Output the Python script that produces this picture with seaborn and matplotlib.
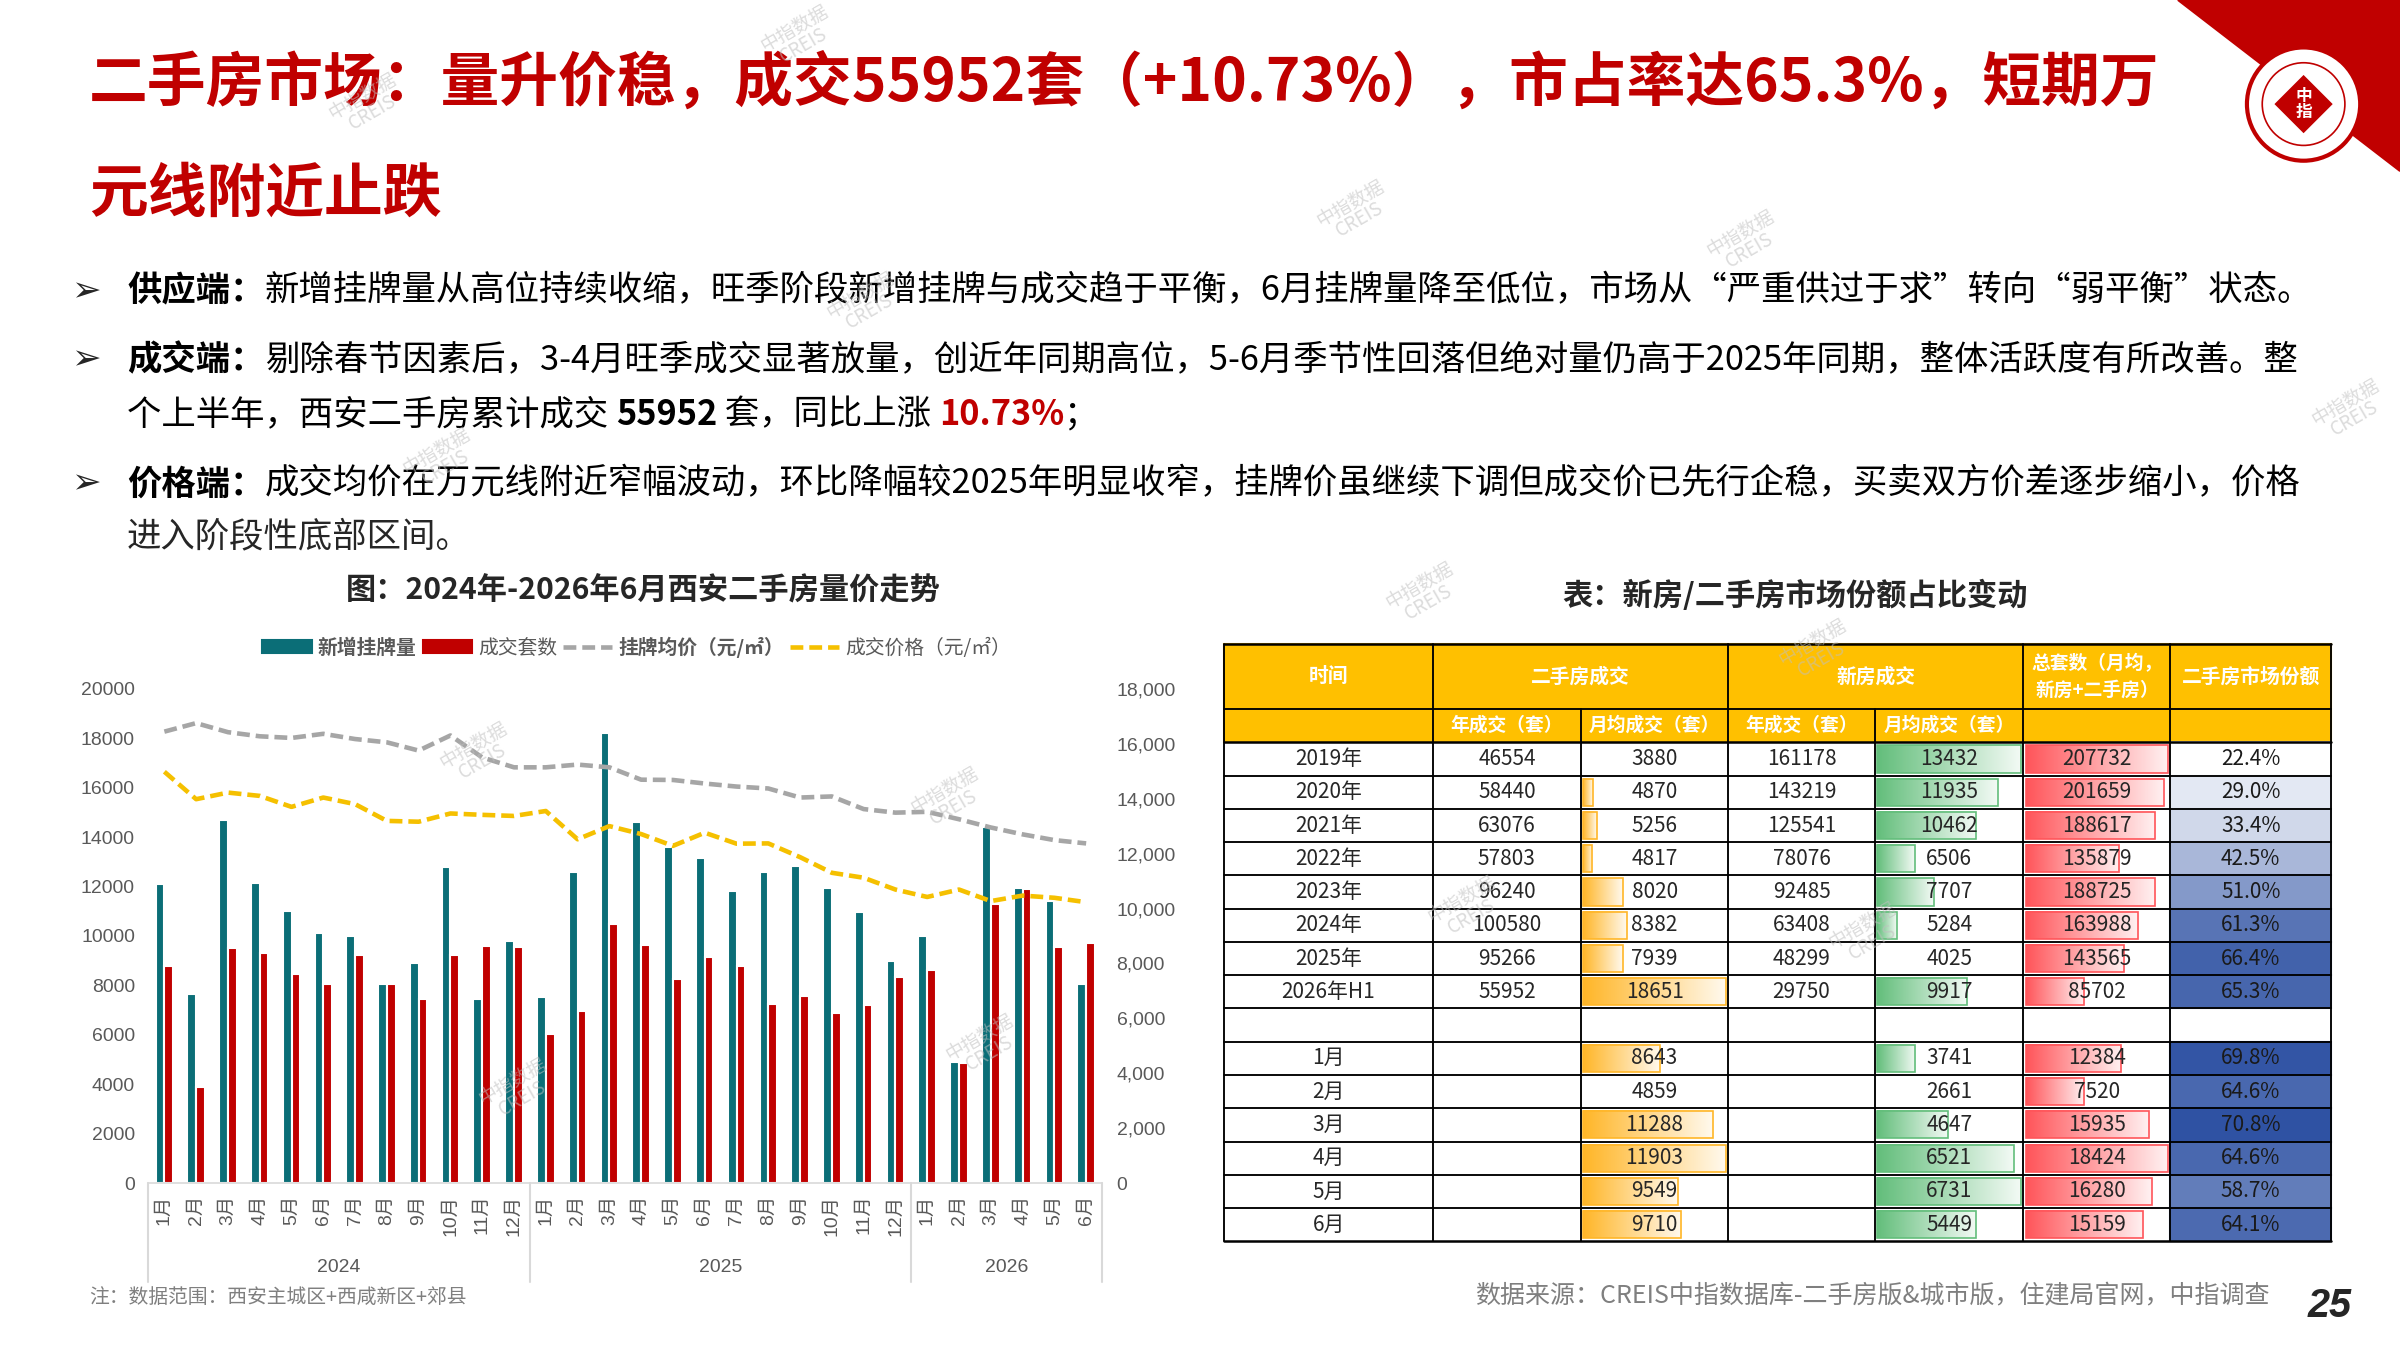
import numpy as np
import pandas as pd
import matplotlib
matplotlib.use("Agg")
import matplotlib.pyplot as plt
import matplotlib.transforms as mtrans
import seaborn as sns
from matplotlib.patches import Rectangle, Polygon, Circle, RegularPolygon, Patch
from matplotlib.lines import Line2D
from matplotlib.colors import LinearSegmentedColormap
from matplotlib.ticker import FuncFormatter

# ---- chart data: Xi'an resale market, 2024.01 - 2026.06 ----
years = ["2024", "2025", "2026"]
months_in_year = [12, 12, 6]
new_listings = [12100, 7650, 14700, 12150, 11000, 10100, 10000, 8050, 8900, 12800, 7450, 9800,
                7550, 12600, 18200, 14600, 13600, 13150, 11800, 12600, 12850, 11950, 10950, 9000,
                10000, 4900, 14400, 11950, 11400, 8050]
deals = [8800, 3900, 9520, 9300, 8450, 8050, 9250, 8050, 7430, 9250, 9600, 9570,
         6030, 6950, 10480, 9620, 8250, 9130, 8780, 7240, 7560, 6880, 7220, 8350,
         8643, 4859, 11288, 11903, 9549, 9710]
listing_price = [16440, 16750, 16420, 16270, 16210, 16360, 16170, 16050, 15750, 16300, 15500, 15140,
                 15140, 15240, 15140, 14690, 14680, 14550, 14440, 14370, 14040, 14080, 13620, 13490,
                 13520, 13250, 12950, 12700, 12490, 12370]
deal_price = [14980, 13980, 14220, 14100, 13700, 14040, 13800, 13190, 13160, 13460, 13410, 13370,
              13550, 12520, 13000, 12710, 12280, 12760, 12360, 12370, 11870, 11300, 11120, 10690,
              10420, 10690, 10270, 10470, 10390, 10230]

# ---- table data ----
tab_years = ["2019年", "2020年", "2021年", "2022年", "2023年", "2024年", "2025年", "2026年H1"]
esf_year = [46554, 58440, 63076, 57803, 96240, 100580, 95266, 55952]
esf_month = [3880, 4870, 5256, 4817, 8020, 8382, 7939, 18651]
new_year = [161178, 143219, 125541, 78076, 92485, 63408, 48299, 29750]
new_month = [13432, 11935, 10462, 6506, 7707, 5284, 4025, 9917]
total_month = [207732, 201659, 188617, 135879, 188725, 163988, 143565, 85702]
share = [22.4, 29.0, 33.4, 42.5, 51.0, 61.3, 66.4, 65.3]
tab_months = ["1月", "2月", "3月", "4月", "5月", "6月"]
m_esf = [8643, 4859, 11288, 11903, 9549, 9710]
m_new = [3741, 2661, 4647, 6521, 6731, 5449]
m_total = [12384, 7520, 15935, 18424, 16280, 15159]
m_share = [69.8, 64.6, 70.8, 64.6, 58.7, 64.1]

TEAL = "#0B6E77"
RED = "#C00000"
GREY_LINE = "#A6A6A6"
YELLOW = "#F5C000"
TXT = "#595959"

sns.set_style("white")
plt.rcParams["font.family"] = ["Noto Sans CJK SC", "DejaVu Sans"]
plt.rcParams["axes.unicode_minus"] = False
LAT = ["Liberation Sans", "Noto Sans CJK SC"]

W, H = 1568, 882
fig = plt.figure(figsize=(16, 9), dpi=150)
bg = fig.add_axes([0, 0, 1, 1])
bg.set_xlim(0, W)
bg.set_ylim(H, 0)
bg.axis("off")
renderer = fig.canvas.get_renderer()


def rich(x, y, parts, size):
    # draw text pieces one after the other on the same baseline
    for s, weight, color in parts:
        t = bg.text(x, y, s, fontsize=size, fontweight=weight, color=color, va="center", ha="left")
        bb = t.get_window_extent(renderer=renderer)
        x += bb.width * W / (16 * 150)


# ---- header ----
bg.text(58, 55, "二手房市场：量升价稳，成交55952套（+10.73%），市占率达65.3%，短期万",
        fontsize=28.2, fontweight="bold", color=RED, va="center")
bg.text(58, 127, "元线附近止跌", fontsize=28.2, fontweight="bold", color=RED, va="center")

bg.add_patch(Polygon([(1423, 0), (W, 0), (W, 112)], closed=True, color="#C00000", zorder=1))
bg.add_patch(Circle((1505, 68), 37, facecolor="white", edgecolor="#C00000", lw=2, zorder=2))
bg.add_patch(Circle((1505, 68), 27, facecolor="none", edgecolor="#C00000", lw=0.8, zorder=2))
bg.add_patch(RegularPolygon((1505, 68), 4, radius=20, facecolor="#C00000", zorder=3))
bg.text(1505, 68, "中\n指", color="white", fontsize=8, fontweight="bold", ha="center", va="center",
        linespacing=0.9, zorder=4)

size_b = 16.5
bullets = [
    (190, [("供应端：", "bold", "black"),
           ("新增挂牌量从高位持续收缩，旺季阶段新增挂牌与成交趋于平衡，6月挂牌量降至低位，市场从“严重供过于求”转向“弱平衡”状态。", "normal", "black")]),
    (235, [("成交端：", "bold", "black"),
           ("剔除春节因素后，3-4月旺季成交显著放量，创近年同期高位，5-6月季节性回落但绝对量仍高于2025年同期，整体活跃度有所改善。整", "normal", "black")]),
    (316, [("价格端：", "bold", "black"),
           ("成交均价在万元线附近窄幅波动，环比降幅较2025年明显收窄，挂牌价虽继续下调但成交价已先行企稳，买卖双方价差逐步缩小，价格", "normal", "black")]),
]
for y, parts in bullets:
    bg.text(56, y, "➢", fontsize=17, family="DejaVu Sans", va="center", ha="center")
    rich(83, y, parts, size_b)
rich(83, 271, [("个上半年，西安二手房累计成交 ", "normal", "black"), ("55952", "bold", "black"),
               (" 套，同比上涨 ", "normal", "black"), ("10.73%", "bold", RED), ("；", "normal", "black")], size_b)
bg.text(83, 351, "进入阶段性底部区间。", fontsize=size_b, va="center")

bg.text(420, 386, "图：2024年-2026年6月西安二手房量价走势", fontsize=14.5, fontweight="bold",
        ha="center", va="center")
bg.text(1173, 389, "表：新房/二手房市场份额占比变动", fontsize=14.5, fontweight="bold",
        ha="center", va="center")

# ---- combo chart ----
keys, month_labels = [], []
for yr, n in zip(years, months_in_year):
    for m in range(1, n + 1):
        keys.append(f"{yr}-{m:02d}")
        month_labels.append(f"{m}月")

df = pd.DataFrame({"key": keys, "新增挂牌量": new_listings, "成交套数": deals,
                   "listing_price": listing_price, "deal_price": deal_price})
long = df.melt(id_vars="key", value_vars=["新增挂牌量", "成交套数"], var_name="series", value_name="value")

ax = fig.add_axes([97 / W, 1 - 773 / H, (720 - 97) / W, (773 - 450) / H])
sns.barplot(data=long, x="key", y="value", hue="series", hue_order=["新增挂牌量", "成交套数"],
            order=keys, palette=[TEAL, RED], width=0.55, saturation=1, ax=ax, legend=False)
ax.set_xlim(-0.5, len(keys) - 0.5)
ax.set_ylim(0, 20000)
ax.set_yticks(range(0, 20001, 2000))
ax.set_xticks(range(len(keys)))
ax.set_xticklabels(month_labels, rotation=90)
ax.set_xlabel("")
ax.set_ylabel("")
ax.tick_params(axis="both", length=0, labelsize=9.3, colors=TXT)
ax.tick_params(axis="y", pad=6.5)
ax.tick_params(axis="x", pad=5.5)
for lab in ax.get_xticklabels() + ax.get_yticklabels():
    lab.set_family(LAT)
for s in ["left", "right", "top"]:
    ax.spines[s].set_visible(False)
ax.spines["bottom"].set_color("#D9D9D9")

ax2 = ax.twinx()
pos = np.arange(len(keys))
sns.lineplot(x=pos, y=df["listing_price"], ax=ax2, color=GREY_LINE, linewidth=2.2)
sns.lineplot(x=pos, y=df["deal_price"], ax=ax2, color=YELLOW, linewidth=2.2)
for ln in ax2.lines:
    ln.set_dashes([2.8, 1.3])
ax2.set_ylim(0, 18000)
ax2.set_yticks(range(0, 18001, 2000))
ax2.yaxis.set_major_formatter(FuncFormatter(lambda v, p: f"{int(v):,}"))
ax2.set_ylabel("")
ax2.tick_params(axis="y", length=0, labelsize=9.3, colors=TXT, pad=7)
for lab in ax2.get_yticklabels():
    lab.set_family(LAT)
for s in ax2.spines.values():
    s.set_visible(False)
ax.set_xlim(-0.5, len(keys) - 0.5)

trans = mtrans.blended_transform_factory(ax.transData, ax.transAxes)
bounds = np.concatenate([[0], np.cumsum(months_in_year)]) - 0.5
for b in bounds:
    ax.plot([b, b], [0, -0.2], transform=trans, color="#D9D9D9", lw=1, clip_on=False)
for yr, a, b in zip(years, bounds[:-1], bounds[1:]):
    ax.text((a + b) / 2, -0.17, yr, transform=trans, ha="center", va="center",
            fontsize=9.3, color=TXT, family=LAT)

handles = [Patch(color=TEAL), Patch(color=RED),
           Line2D([], [], color=GREY_LINE, lw=2.2, dashes=[2.8, 1.3]),
           Line2D([], [], color=YELLOW, lw=2.2, dashes=[2.8, 1.3])]
leg = fig.legend(handles, ["新增挂牌量", "成交套数", "挂牌均价（元/㎡）", "成交价格（元/㎡）"],
                 loc="center", bbox_to_anchor=(416 / W, 1 - 423 / H), ncol=4, frameon=False,
                 fontsize=9.5, handlelength=2.5, handleheight=0.6, handletextpad=0.3,
                 columnspacing=0.3)
for i, t in enumerate(leg.get_texts()):
    t.set_color(TXT)
    if i in (0, 2):
        t.set_fontweight("bold")

bg.text(58, 848, "注：数据范围：西安主城区+西咸新区+郊县", fontsize=9.5, color="#7F7F7F", va="center")
bg.text(1483, 847, "数据来源：CREIS中指数据库-二手房版&城市版，住建局官网，中指调查", fontsize=12,
        color="#7F7F7F", va="center", ha="right")
bg.text(1522, 853, "25", fontsize=19, fontweight="bold", style="italic", color="#262626",
        family="Liberation Sans", va="center", ha="center")

# ---- table ----
cols = [800, 936, 1033, 1129, 1225, 1322, 1418, 1523]
t_top, t_h1, t_h2, t_bot = 421, 463, 485, 811
rh = (t_bot - t_h2) / 15

bg.add_patch(Rectangle((cols[0], t_top), cols[-1] - cols[0], t_h2 - t_top, color="#FFC000", zorder=1))
hdr = dict(color="white", fontweight="bold", ha="center", va="center", zorder=5)
bg.text((cols[0] + cols[1]) / 2, (t_top + t_h1) / 2, "时间", fontsize=9.5, **hdr)
bg.text((cols[1] + cols[3]) / 2, (t_top + t_h1) / 2, "二手房成交", fontsize=9.5, **hdr)
bg.text((cols[3] + cols[5]) / 2, (t_top + t_h1) / 2, "新房成交", fontsize=9.5, **hdr)
bg.text((cols[5] + cols[6]) / 2, (t_top + t_h1) / 2, "总套数（月均，\n新房+二手房）", fontsize=9,
        linespacing=1.5, **hdr)
bg.text((cols[6] + cols[7]) / 2, (t_top + t_h1) / 2, "二手房市场份额", fontsize=9.5, **hdr)
for c, s in zip(range(1, 5), ["年成交（套）", "月均成交（套）", "年成交（套）", "月均成交（套）"]):
    bg.text((cols[c] + cols[c + 1]) / 2, (t_h1 + t_h2) / 2, s, fontsize=9, **hdr)

share_cmap = LinearSegmentedColormap.from_list("share", ["#FFFFFF", "#2F52A3"])
all_share = share + m_share
s_min, s_max = min(all_share), max(all_share)


def grad_bar(x0, x1, y0, y1, color):
    cmap = LinearSegmentedColormap.from_list("g", [color, "#FFFFFF"])
    bg.imshow(np.linspace(0, 0.92, 256).reshape(1, -1), extent=[x0, x1, y1, y0], cmap=cmap,
              vmin=0, vmax=1, aspect="auto", zorder=2)
    bg.add_patch(Rectangle((x0, y0), x1 - x0, y1 - y0, fill=False, edgecolor=color, lw=0.8, zorder=3))


sections = [
    (0, tab_years, [esf_year, esf_month, new_year, new_month, total_month], share),
    (9, tab_months, [None, m_esf, None, m_new, m_total], m_share),
]
bar_specs = {1: ("#FFB628", "min"), 3: ("#63BE7B", "min"), 4: ("#FF555A", "zero")}
for start, labels, columns, shr in sections:
    for i, lab in enumerate(labels):
        r = start + i
        y0 = t_h2 + r * rh
        yc = y0 + rh / 2
        bg.text((cols[0] + cols[1]) / 2, yc, lab, fontsize=10, ha="center", va="center", zorder=5)
        for j, vals in enumerate(columns):
            if vals is None:
                continue
            c = j + 1
            v = vals[i]
            if j in bar_specs:
                color, mode = bar_specs[j]
                lo = min(vals) if mode == "min" else 0
                frac = (v - lo) / (max(vals) - lo)
                if frac > 0:
                    x0 = cols[c] + 1.5
                    grad_bar(x0, x0 + frac * (cols[c + 1] - cols[c] - 3), y0 + 2, y0 + rh - 2, color)
            bg.text((cols[c] + cols[c + 1]) / 2, yc, str(v), fontsize=10, ha="center", va="center", zorder=5)
        sv = shr[i]
        bg.add_patch(Rectangle((cols[6], y0), cols[7] - cols[6], rh,
                               color=share_cmap((sv - s_min) / (s_max - s_min)), zorder=1))
        bg.text((cols[6] + cols[7]) / 2, yc, f"{sv:.1f}%", fontsize=10, ha="center", va="center",
                color="#1A1A1A", zorder=5)

# grid lines
bg.plot([cols[0], cols[-1]], [t_top, t_top], color="black", lw=1.2, zorder=4)
bg.plot([cols[0], cols[-1]], [t_h1, t_h1], color="black", lw=0.9, zorder=4)
for r in range(16):
    yy = t_h2 + r * rh
    bg.plot([cols[0], cols[-1]], [yy, yy], color="black", lw=1.2 if r in (0, 15) else 0.9, zorder=4)
for k, x in enumerate(cols):
    y_start = t_h1 if k in (2, 4) else t_top
    bg.plot([x, x], [y_start, t_bot], color="black", lw=0.9, zorder=4)

bg.set_xlim(0, W)
bg.set_ylim(H, 0)

# ---- watermarks ----
wm = fig.add_axes([0, 0, 1, 1])
wm.set_xlim(0, W)
wm.set_ylim(H, 0)
wm.axis("off")
for x, y in [(522, 24), (240, 68), (885, 138), (1140, 158), (565, 198), (1535, 268), (288, 300),
             (930, 388), (1187, 425), (312, 492), (620, 522), (338, 712), (643, 683), (958, 593),
             (1220, 610)]:
    wm.text(x, y, "中指数据\nCREIS", rotation=30, fontsize=9, color="#BFBFBF", alpha=0.55,
            ha="center", va="center", linespacing=0.9)

fig.savefig("out.png", dpi=150)
